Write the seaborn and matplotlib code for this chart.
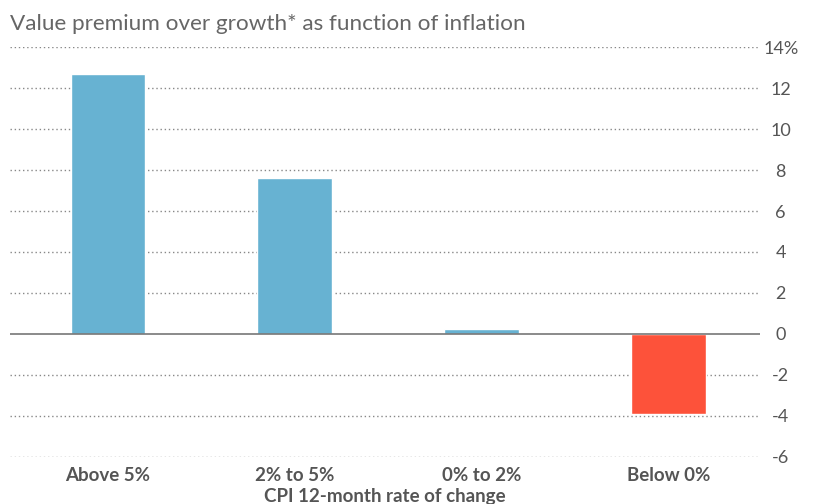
import matplotlib
matplotlib.use("Agg")
import matplotlib.pyplot as plt
import seaborn as sns
import pandas as pd

categories = ["Above 5%", "2% to 5%", "0% to 2%", "Below 0%"]
values = [12.7, 7.6, 0.25, -3.9]
bar_colors = ["#67b2d2", "#67b2d2", "#67b2d2", "#fd523a"]
yticks = [-6, -4, -2, 0, 2, 4, 6, 8, 10, 12, 14]
ytick_labels = ["-6", "-4", "-2", "0", "2", "4", "6", "8", "10", "12", "14%"]

sns.set_theme(style="white")
plt.rcParams['font.family'] = ['Lato', 'DejaVu Sans']

df = pd.DataFrame({"cat": categories, "val": values})

fig = plt.figure(figsize=(8.15, 5.04), dpi=100)
ax = fig.add_axes([0.0123, 0.0933, 0.92, 0.8134])

sns.barplot(data=df, x="cat", y="val", hue="cat", palette=bar_colors,
            width=0.4, legend=False, ax=ax, saturation=1, zorder=3)

ax.set_ylim(-6, 14)
ax.set_xlim(-0.524, 3.49)
ax.set_yticks(yticks)
ax.set_yticklabels(ytick_labels)
ax.yaxis.tick_right()
for y in yticks:
    if y == 0:
        ax.axhline(0, color="#777777", lw=1.2, zorder=4)
    else:
        ax.axhline(y, color="#888888", lw=1, ls=(0, (1, 2)), zorder=1)

for s in ax.spines.values():
    s.set_visible(False)
ax.tick_params(axis="y", length=0, pad=15, labelsize=13, labelcolor="#555555")
for lbl in ax.get_yticklabels():
    lbl.set_horizontalalignment("center")
ax.tick_params(axis="x", length=0, pad=7, labelsize=13.5, labelcolor="#555555")
for lbl in ax.get_xticklabels():
    lbl.set_fontweight("bold")
ax.set_xlabel("CPI 12-month rate of change", fontsize=13.5, color="#555555",
              fontweight="bold", labelpad=3)
ax.set_ylabel("")
fig.text(0.012, 0.932, "Value premium over growth* as function of inflation",
         fontsize=16.2, color="#666666", ha="left", va="bottom")

fig.savefig("out.png", dpi=100, facecolor="white")
